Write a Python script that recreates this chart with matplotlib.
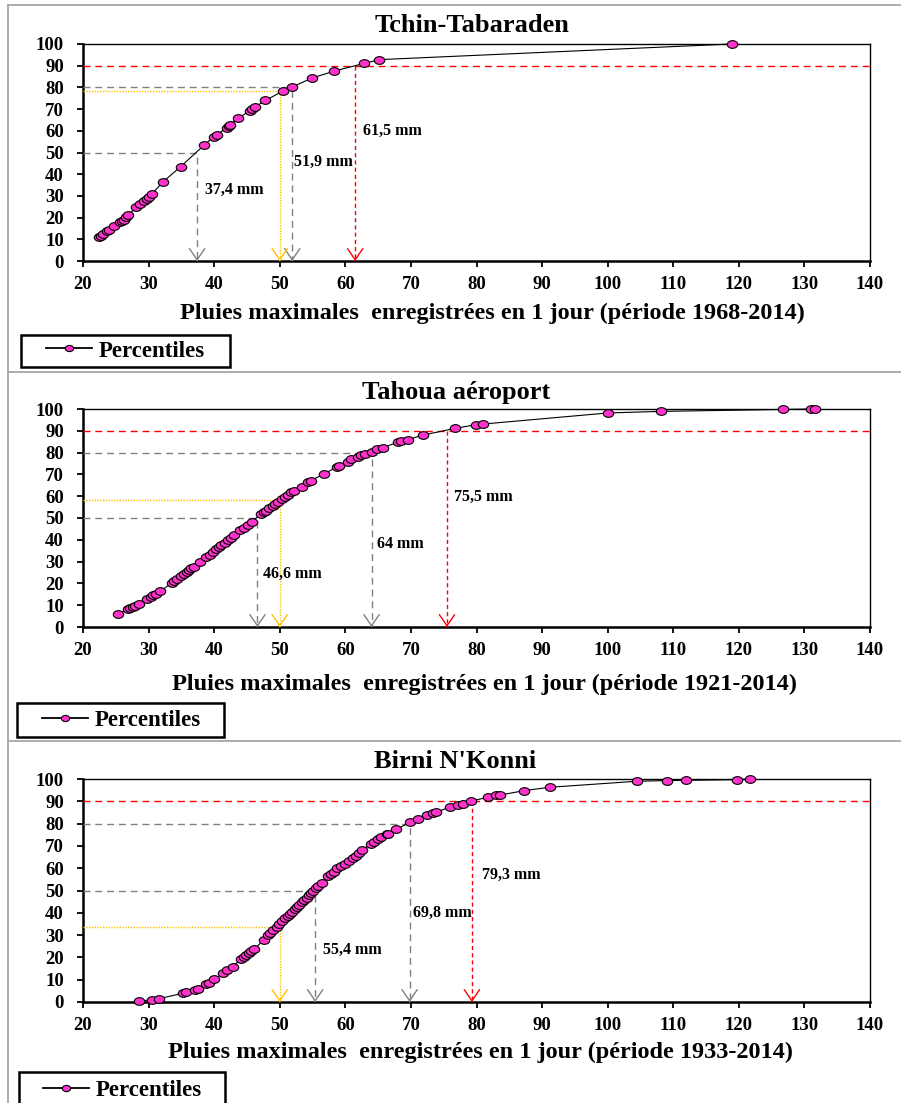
import numpy as np
import matplotlib
matplotlib.use('Agg')
import matplotlib.pyplot as plt
from matplotlib.path import Path
from matplotlib.lines import Line2D
from matplotlib.patches import Rectangle

plt.rcParams['font.family'] = ['Liberation Serif', 'DejaVu Serif']
plt.rcParams['font.weight'] = 'bold'

# ---------------- data ----------------
titles = ["Tchin-Tabaraden", "Tahoua aéroport", "Birni N'Konni"]
periods = ["1968-2014", "1921-2014", "1933-2014"]

tchin_x = [22.4, 22.7, 23.0, 23.7, 24.0, 24.7, 25.6, 25.9, 26.2, 26.6, 26.9, 28.1,
           28.7, 29.3, 29.7, 30.1, 30.5, 32.2, 34.9, 38.5, 39.9, 40.4, 42.0, 42.2,
           42.4, 43.7, 45.4, 45.7, 46.3, 47.8, 50.5, 51.9, 54.9, 58.3, 62.9, 65.2, 118.9]
tchin_y = [11.1, 11.5, 12.3, 13.8, 14.2, 16.0, 18.2, 18.5, 19.1, 20.3, 21.1, 24.8,
           26.2, 27.5, 28.6, 29.7, 30.9, 36.5, 43.5, 53.5, 57.1, 58.2, 61.5, 62.3,
           62.9, 65.8, 69.2, 70.2, 71.1, 74.0, 78.3, 80.2, 84.3, 87.5, 91.1, 92.8, 100.0]

tahoua_x = [25.4, 26.9, 27.2, 27.6, 28.0, 28.5, 29.8, 30.3, 30.7, 31.2, 31.8, 33.5,
            33.9, 34.4, 35.0, 35.4, 35.8, 36.2, 36.5, 36.9, 37.8, 38.8, 39.3, 39.8,
            40.3, 40.7, 41.1, 41.6, 42.1, 42.5, 43.1, 43.9, 44.5, 45.1, 45.7, 47.2,
            47.6, 47.9, 48.4, 48.9, 49.3, 49.8, 50.3, 50.8, 51.2, 51.7, 52.2, 53.4,
            54.3, 54.7, 56.8, 58.7, 59.1, 60.4, 60.9, 61.9, 62.4, 63.0, 64.1, 64.9,
            65.7, 68.0, 68.5, 69.6, 71.8, 76.7, 79.9, 81.0, 100.1, 108.1, 126.8,
            131.0, 131.6]
tahoua_y = [6.1, 8.3, 8.6, 9.1, 9.7, 10.6, 12.9, 13.7, 14.6, 15.3, 16.4, 20.1,
            20.9, 21.8, 23.6, 24.5, 25.3, 26.2, 27.0, 27.6, 29.6, 31.9, 33.0, 34.5,
            35.6, 36.7, 37.6, 38.7, 39.9, 41.0, 42.0, 44.5, 45.6, 46.9, 48.3, 51.8,
            52.6, 53.4, 54.4, 55.5, 56.4, 57.4, 58.6, 59.7, 60.7, 61.7, 62.3, 64.4,
            66.3, 67.2, 70.2, 73.5, 73.9, 75.9, 77.0, 78.1, 78.7, 79.4, 80.5, 81.7,
            82.3, 84.7, 85.3, 86.0, 88.0, 91.1, 92.8, 93.1, 98.2, 98.9, 99.8,
            100.0, 100.0]

birni_x = [28.5, 30.5, 31.6, 35.2, 35.7, 37.1, 37.5, 38.8, 39.2, 40.0, 41.4, 42.0,
           42.8, 44.1, 44.5, 44.9, 45.3, 45.6, 46.1, 47.6, 48.2, 48.5, 49.0, 49.6,
           49.9, 50.4, 50.8, 51.2, 51.6, 51.9, 52.3, 52.7, 53.0, 53.4, 53.7, 54.1,
           54.4, 54.8, 55.1, 55.5, 55.9, 56.4, 57.4, 57.8, 58.3, 58.8, 59.3, 59.9,
           60.5, 61.2, 61.7, 62.1, 62.6, 63.9, 64.3, 65.0, 65.4, 66.3, 66.5, 67.7,
           69.9, 71.1, 72.5, 73.4, 73.9, 75.9, 77.2, 77.9, 79.1, 81.8, 83.0, 83.6,
           87.3, 91.2, 104.5, 109.1, 111.9, 119.7, 121.7]
birni_y = [0.4, 1.0, 1.5, 3.9, 4.3, 5.4, 6.0, 8.2, 8.7, 10.3, 12.9, 14.4,
           15.8, 19.3, 20.2, 21.1, 21.8, 22.7, 23.6, 28.0, 30.0, 30.8, 32.1, 33.6,
           34.8, 36.3, 37.5, 38.6, 39.6, 40.5, 41.7, 42.8, 43.6, 44.7, 45.6, 46.6,
           47.8, 48.7, 49.9, 51.1, 52.0, 53.5, 56.5, 57.4, 58.4, 59.9, 61.0, 62.0,
           63.2, 64.6, 65.6, 66.8, 68.0, 70.9, 71.6, 73.1, 73.8, 75.2, 75.5, 77.4,
           80.6, 82.2, 83.7, 84.8, 85.2, 87.3, 88.5, 88.9, 90.1, 91.8, 92.7, 92.8,
           94.8, 96.3, 99.0, 99.3, 99.4, 99.7, 100.0]

series_x = [tchin_x, tahoua_x, birni_x]
series_y = [tchin_y, tahoua_y, birni_y]

q50 = [37.4, 46.6, 55.4]          # median (mm)
q80 = [51.9, 64.0, 69.8]          # 80th percentile (mm)
q90 = [61.5, 75.5, 79.3]          # 90th percentile (mm)
pct_at_50mm = [78.5, 58.4, 33.8]  # percentile reached by 50 mm
q50_labels = ["37,4 mm", "46,6 mm", "55,4 mm"]
q80_labels = ["51,9 mm", "64 mm", "69,8 mm"]
q90_labels = ["61,5 mm", "75,5 mm", "79,3 mm"]

# ---------------- layout ----------------
W, H = 901, 1103
def fx(px):
    return px / W
def fy(py):
    return 1 - py / H

axes_px = [(44, 261), (409, 627), (779, 1002)]
title_pos = [(472, 25), (456, 392), (455, 762)]
xlabel_pos = [(492, 313), (485, 684), (480, 1052)]
legend_box = [(21, 335, 230, 367), (17, 703, 224, 737), (19, 1072, 225, 1108)]
legend_anchor = [(46, 351), (42, 720), (43, 1090)]
lab50_pos = [(38.6, 32.8), (47.4, 24.5), (56.6, 23.3)]
lab80_pos = [(52.2, 45.5), (64.8, 38.3), (70.3, 39.8)]
lab90_pos = [(62.7, 60.0), (76.5, 59.8), (80.8, 57.0)]

RED = '#FF0000'
GREY = '#808080'
YELLOW = '#FFC000'
PINK = '#FF33CC'

circ = Path.unit_circle()
ellipse = Path(circ.vertices * np.array([1.35, 1.0]), circ.codes)

fig = plt.figure(figsize=(W / 100, H / 100), dpi=100)

# panel frames
border = '#A6A6A6'
for seg in [([8, 8], [5, 1103]), ([8, 901], [5, 5]),
            ([8, 901], [372, 372]), ([8, 901], [741, 741])]:
    fig.add_artist(Line2D([fx(v) for v in seg[0]], [fy(v) for v in seg[1]],
                          transform=fig.transFigure, color=border, lw=1.3))

arrow_style = '->,head_length=0.8,head_width=0.55'

for i in range(3):
    top, bot = axes_px[i]
    ax = fig.add_axes([fx(83), fy(bot), fx(870) - fx(83), (bot - top) / H])
    ax.set_xlim(20, 140)
    ax.set_ylim(0, 100)

    line, = ax.plot(series_x[i], series_y[i], color='black', lw=0.8,
                    marker=ellipse, ms=7.5, mfc=PINK, mec='black', mew=0.8,
                    label='Percentiles', zorder=5, clip_on=False)

    # 90th percentile
    ax.axhline(90, color=RED, lw=1.0, ls=(0, (5, 3.5)), zorder=3)
    ax.plot([q90[i], q90[i]], [90, 0], color=RED, lw=1.0, ls=(0, (3, 2.2)), zorder=3)
    # 80th percentile
    ax.plot([20, q80[i], q80[i]], [80, 80, 0], color=GREY, lw=1.0,
            ls=(0, (5, 3.5)), zorder=3)
    # median
    ax.plot([20, q50[i], q50[i]], [50, 50, 0], color=GREY, lw=1.0,
            ls=(0, (5, 3.5)), zorder=3)
    # 50 mm
    ax.plot([20, 50, 50], [pct_at_50mm[i], pct_at_50mm[i], 0], color=YELLOW,
            lw=1.0, ls=(0, (1, 1)), zorder=3)

    for xv, col in [(q50[i], GREY), (q80[i], GREY), (50, YELLOW), (q90[i], RED)]:
        ax.annotate('', xy=(xv, 0), xytext=(xv, 0.4), annotation_clip=False,
                    arrowprops=dict(arrowstyle=arrow_style, color=col, lw=1.0,
                                    shrinkA=0, shrinkB=0), zorder=4)

    for txt, (lx, ly) in [(q50_labels[i], lab50_pos[i]), (q80_labels[i], lab80_pos[i]),
                          (q90_labels[i], lab90_pos[i])]:
        ax.text(lx, ly, txt, ha='left', va='center', fontsize=11.5, weight='bold')

    ax.set_xticks(range(20, 141, 10))
    ax.set_yticks(range(0, 101, 10))
    ax.tick_params(axis='both', direction='out', length=4.3, width=1.3,
                   labelsize=13.5, color='black')
    ax.tick_params(axis='x', pad=6.5)
    ax.tick_params(axis='y', pad=9.5)
    for s in ['left', 'bottom']:
        ax.spines[s].set_linewidth(1.8)
    for s in ['top', 'right']:
        ax.spines[s].set_linewidth(1.0)

    ax.set_xlabel("Pluies maximales  enregistrées en 1 jour (période %s)" % periods[i],
                  fontsize=17.5, weight='bold', va='center')
    ax.xaxis.set_label_coords((xlabel_pos[i][0] - 83) / 787,
                              (bot - xlabel_pos[i][1]) / (bot - top))

    fig.text(fx(title_pos[i][0]), fy(title_pos[i][1]), titles[i], ha='center',
             va='center', fontsize=19, weight='bold')

    x0, y0, x1, y1 = legend_box[i]
    fig.add_artist(Rectangle((fx(x0), fy(y1)), fx(x1) - fx(x0), fy(y0) - fy(y1),
                             transform=fig.transFigure, fill=False,
                             edgecolor='black', lw=1.8, zorder=1))
    leg = ax.legend(handles=[line], loc='center left',
                    bbox_to_anchor=(fx(legend_anchor[i][0]), fy(legend_anchor[i][1])),
                    bbox_transform=fig.transFigure, frameon=False, borderpad=0,
                    borderaxespad=0, handlelength=2.0, handletextpad=0.3,
                    prop={'size': 16.5, 'weight': 'bold'}, markerscale=0.8)
    for h in leg.get_lines():
        h.set_linewidth(1.3)

fig.savefig('out.png', dpi=100)
